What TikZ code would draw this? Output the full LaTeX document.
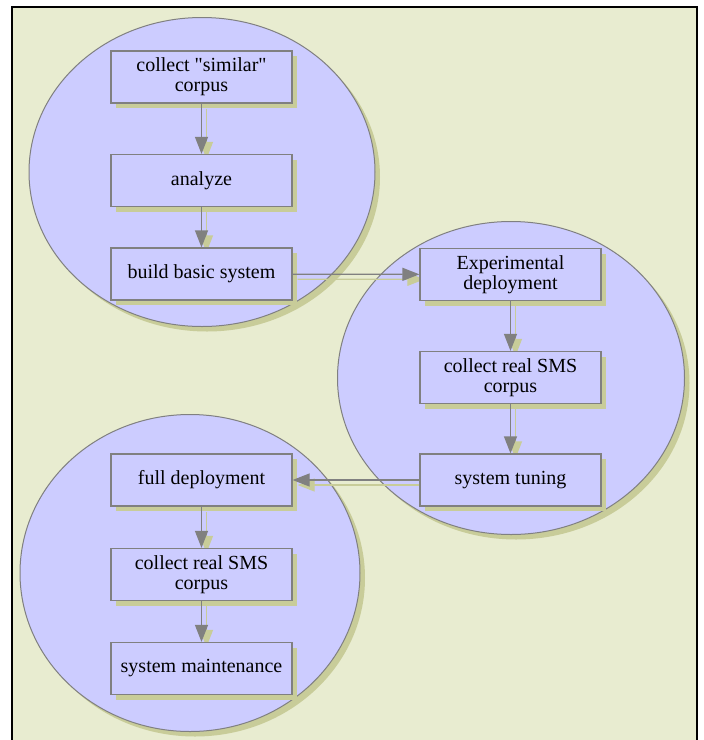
\documentclass[tikz,border=0pt]{standalone}
\usepackage{fontspec}
\setmainfont{Liberation Serif}
\newfontfamily\boxfont{Liberation Serif}
\usetikzlibrary{arrows.meta,shapes.geometric,shadows}
\definecolor{bgcol}{HTML}{E8ECD0}
\definecolor{clfill}{HTML}{CCCCFF}
\definecolor{shd}{HTML}{C8CC99}
\definecolor{edgecol}{HTML}{808080}
\pgfdeclarelayer{background}
\pgfdeclarelayer{eshadow}
\pgfsetlayers{background,eshadow,main}
\begin{document}
\begin{tikzpicture}[x=1pt,y=-1pt,
  myshadow/.style={drop shadow={shadow xshift=5pt,shadow yshift=-5pt,fill=shd,opacity=1}},
  cluster/.style={ellipse,draw=edgecol,line width=1pt,fill=clfill,inner sep=0pt,myshadow},
  stepbox/.style={rectangle,draw=edgecol,line width=1.2pt,fill=clfill,minimum width=181pt,minimum height=52pt,inner sep=0pt,align=center,font=\boxfont\fontsize{20}{20}\selectfont,myshadow},
  edge/.style={draw=edgecol,line width=1.2pt,-{Triangle[length=17pt,width=13pt]}},
  edgeshd/.style={draw=shd,line width=1.2pt,-{Triangle[length=17pt,width=13pt]},transform canvas={xshift=5pt,yshift=-5pt}}]
\useasboundingbox (0,0) rectangle (704,740);
\begin{pgfonlayer}{background}
\fill[bgcol] (12,7) rectangle (697,760);
\draw[black,line width=2pt] (12,760) -- (12,7) -- (697,7) -- (697,760);
\node[cluster,minimum width=346pt,minimum height=309pt] (c1) at (202,172) {};
\node[cluster,minimum width=347pt,minimum height=313pt] (c2) at (511,378) {};
\node[cluster,minimum width=340pt,minimum height=317pt] (c3) at (190,573) {};
\end{pgfonlayer}
\node[stepbox] (b1) at (201.5,77) {collect \char34similar\char34\\corpus};
\node[stepbox] (b2) at (201.5,180.5) {analyze};
\node[stepbox] (b3) at (201.5,274) {build basic system};
\node[stepbox] (e1) at (510.5,274.5) {Experimental\\deployment};
\node[stepbox] (e2) at (510.5,377.5) {collect real SMS\\corpus};
\node[stepbox] (e3) at (510.5,480) {system tuning};
\node[stepbox] (f1) at (201.5,480) {full deployment};
\node[stepbox] (f2) at (201.5,574.5) {collect real SMS\\corpus};
\node[stepbox] (f3) at (201.5,668.5) {system maintenance};
\begin{pgfonlayer}{eshadow}
\draw[edgeshd] (b1) -- (b2);
\draw[edgeshd] (b2) -- (b3);
\draw[edgeshd] (b3) -- (e1);
\draw[edgeshd] (e1) -- (e2);
\draw[edgeshd] (e2) -- (e3);
\draw[edgeshd] (e3) -- (f1);
\draw[edgeshd] (f1) -- (f2);
\draw[edgeshd] (f2) -- (f3);
\end{pgfonlayer}
\draw[edge] (b1) -- (b2);
\draw[edge] (b2) -- (b3);
\draw[edge] (b3) -- (e1);
\draw[edge] (e1) -- (e2);
\draw[edge] (e2) -- (e3);
\draw[edge] (e3) -- (f1);
\draw[edge] (f1) -- (f2);
\draw[edge] (f2) -- (f3);
\end{tikzpicture}
\end{document}
